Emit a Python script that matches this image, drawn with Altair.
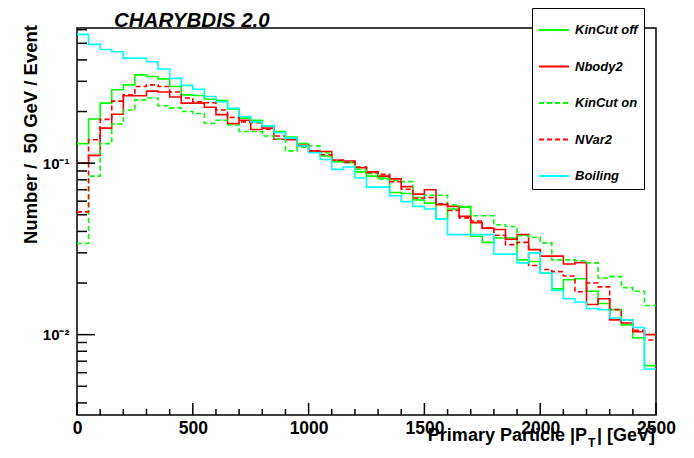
import altair as alt
import pandas as pd

# ---------------- data ----------------
bin_edges = list(range(0, 2550, 50))  # 50 bins of 50 GeV, 51 edges

kincut_off = [0.13, 0.181, 0.224, 0.268, 0.286, 0.327, 0.32, 0.31, 0.28, 0.25,
              0.248, 0.236, 0.232, 0.207, 0.183, 0.178, 0.165, 0.153, 0.142, 0.13,
              0.118, 0.11, 0.102, 0.101, 0.089, 0.084, 0.082, 0.0675, 0.0665, 0.061,
              0.0585, 0.0472, 0.054, 0.0554, 0.0375, 0.0345, 0.0366, 0.0366, 0.0273, 0.0267,
              0.0228, 0.0185, 0.0209, 0.0212, 0.0179, 0.0152, 0.014, 0.0114, 0.0096, 0.0066]

nbody2 = [0.100, 0.111, 0.16, 0.193, 0.247, 0.247, 0.263, 0.26, 0.243, 0.224,
          0.224, 0.212, 0.192, 0.17, 0.178, 0.157, 0.16, 0.138, 0.137, 0.127,
          0.118, 0.117, 0.104, 0.103, 0.094, 0.089, 0.084, 0.081, 0.073, 0.066,
          0.070, 0.0573, 0.056, 0.049, 0.045, 0.0418, 0.041, 0.036, 0.0383, 0.0313,
          0.0287, 0.0287, 0.0258, 0.0263, 0.015, 0.0162, 0.0122, 0.0117, 0.0104, 0.0100]

kincut_on = [0.034, 0.084, 0.13, 0.169, 0.204, 0.234, 0.24, 0.216, 0.21, 0.2,
             0.195, 0.171, 0.178, 0.167, 0.153, 0.153, 0.144, 0.138, 0.118, 0.124,
             0.126, 0.115, 0.103, 0.101, 0.092, 0.087, 0.081, 0.079, 0.078, 0.063,
             0.065, 0.065, 0.057, 0.056, 0.0494, 0.0494, 0.0437, 0.0427, 0.0377, 0.037,
             0.0343, 0.0273, 0.0273, 0.027, 0.0262, 0.0214, 0.0218, 0.0188, 0.0179, 0.0148]

nvar2 = [0.052, 0.137, 0.18, 0.23, 0.25, 0.28, 0.286, 0.28, 0.26, 0.24,
         0.228, 0.225, 0.204, 0.185, 0.174, 0.172, 0.158, 0.144, 0.138, 0.126,
         0.117, 0.112, 0.104, 0.101, 0.095, 0.088, 0.086, 0.078, 0.0705, 0.0626,
         0.063, 0.058, 0.053, 0.048, 0.046, 0.042, 0.038, 0.0335, 0.0345, 0.0253,
         0.024, 0.0233, 0.022, 0.0178, 0.020, 0.019, 0.014, 0.0122, 0.0106, 0.0093]

boiling = [0.564, 0.493, 0.46, 0.446, 0.41, 0.41, 0.39, 0.354, 0.312, 0.284,
           0.27, 0.245, 0.228, 0.209, 0.187, 0.174, 0.165, 0.151, 0.14, 0.126,
           0.115, 0.105, 0.092, 0.095, 0.082, 0.0725, 0.0725, 0.0645, 0.0597, 0.056,
           0.054, 0.0472, 0.0383, 0.0383, 0.0383, 0.0383, 0.0295, 0.0295, 0.0262, 0.030,
           0.0229, 0.0181, 0.0162, 0.0155, 0.0142, 0.014, 0.0125, 0.0122, 0.011, 0.0063]

series_names = ["KinCut off", "Nbody2", "KinCut on", "NVar2", "Boiling"]
series_values = [kincut_off, nbody2, kincut_on, nvar2, boiling]
series_colors = ["#00ff00", "#ff0000", "#00ff00", "#ff0000", "#00ffff"]
series_dashes = [[1, 0], [1, 0], [5, 3], [5, 3], [1, 0]]

x_major = [0, 500, 1000, 1500, 2000, 2500]
x_minor = [100, 200, 300, 400, 600, 700, 800, 900, 1100, 1200, 1300, 1400,
           1600, 1700, 1800, 1900, 2100, 2200, 2300, 2400]
y_major = [0.01, 0.1]
y_minor = [0.004, 0.005, 0.006, 0.007, 0.008, 0.009,
           0.02, 0.03, 0.04, 0.05, 0.06, 0.07, 0.08, 0.09,
           0.2, 0.3, 0.4, 0.5, 0.6]

plot_title = ["CHARYBDIS 2.0"]
y_title = ["Number /\u00a0\u00a050 GeV / Event"]
x_title_main = ["Primary Particle |P"]
x_title_sub = ["T"]
x_title_end = ["| [GeV]"]

# ---------------- tables ----------------
rows = []
for name, vals in zip(series_names, series_values):
    ys = list(vals) + [vals[-1]]  # close the last bin at its upper edge
    for e, v in zip(bin_edges, ys):
        rows.append({"pt": e, "val": v, "series": name})
hist_df = pd.DataFrame(rows)

W, H = 579, 387
FONT = "Liberation Sans"

x_scale = alt.Scale(domain=[0, 2500], nice=False, zero=False)
y_scale = alt.Scale(type="log", domain=[0.0034, 0.614], nice=False)

x_axis = alt.Axis(title="", values=x_major, format="d", labelFont=FONT,
                  labelFontSize=17.5, labelFontWeight="bold", labelColor="black",
                  labelPadding=4, labelBaseline="top", ticks=False, tickSize=0,
                  domain=False, grid=False, labelFlush=False, labelOverlap=False)
y_axis = alt.Axis(title="", values=y_major,
                  labelExpr="datum.value < 0.05 ? '10\u207b\u00b2' : '10\u207b\u00b9'",
                  labelFont=FONT, labelFontSize=15, labelFontWeight="bold",
                  labelColor="black", labelPadding=8, ticks=False, tickSize=0,
                  domain=False, grid=False, labelFlush=False, labelOverlap=False)

legend = alt.Legend(title=None, orient="none", legendX=455, legendY=-20,
                    fillColor="white", strokeColor="black", padding=6,
                    rowPadding=13.5, symbolType="stroke", symbolSize=900,
                    symbolStrokeWidth=2, labelFont=FONT, labelFontSize=13,
                    labelFontStyle="italic", labelFontWeight="bold",
                    labelColor="black", labelOffset=5,
                    labelExpr="datum.label + '" + "\u00a0" * 12 + "'")

lines = alt.Chart(hist_df).mark_line(interpolate="step-after", strokeWidth=1.6).encode(
    x=alt.X("pt:Q", scale=x_scale, axis=x_axis),
    y=alt.Y("val:Q", scale=y_scale, axis=y_axis),
    color=alt.Color("series:N", scale=alt.Scale(domain=series_names, range=series_colors),
                    legend=legend),
    strokeDash=alt.StrokeDash("series:N",
                              scale=alt.Scale(domain=series_names, range=series_dashes),
                              legend=legend),
)

# inward ticks (ROOT style)
xt_major = alt.Chart(pd.DataFrame({"tx": x_major})).mark_rule(color="black", strokeWidth=1.5).encode(
    x=alt.X("tx:Q", scale=x_scale, axis=x_axis), y=alt.value(H), y2=alt.value(H - 12))
xt_minor = alt.Chart(pd.DataFrame({"tx": x_minor})).mark_rule(color="black", strokeWidth=1.5).encode(
    x=alt.X("tx:Q", scale=x_scale, axis=x_axis), y=alt.value(H), y2=alt.value(H - 6))
yt_major = alt.Chart(pd.DataFrame({"ty": y_major})).mark_rule(color="black", strokeWidth=1.5).encode(
    y=alt.Y("ty:Q", scale=y_scale, axis=y_axis), x=alt.value(0), x2=alt.value(18))
yt_minor = alt.Chart(pd.DataFrame({"ty": y_minor})).mark_rule(color="black", strokeWidth=1.5).encode(
    y=alt.Y("ty:Q", scale=y_scale, axis=y_axis), x=alt.value(0), x2=alt.value(10))

title_layer = alt.Chart(pd.DataFrame({"t": plot_title})).mark_text(
    font=FONT, fontSize=20.5, fontStyle="italic", fontWeight="bold", align="left",
    baseline="alphabetic", color="black").encode(text="t:N", x=alt.value(37), y=alt.value(-1.5))

ytitle_layer = alt.Chart(pd.DataFrame({"t": y_title})).mark_text(
    font=FONT, fontSize=18.5, fontWeight="bold", angle=270, align="right",
    baseline="alphabetic", color="black").encode(text="t:N", x=alt.value(-40), y=alt.value(-3))

xt1 = alt.Chart(pd.DataFrame({"t": x_title_main})).mark_text(
    font=FONT, fontSize=18, fontWeight="bold", align="right", baseline="alphabetic",
    color="black").encode(text="t:N", x=alt.value(510), y=alt.value(413))
xt2 = alt.Chart(pd.DataFrame({"t": x_title_sub})).mark_text(
    font=FONT, fontSize=12, fontWeight="bold", align="left", baseline="alphabetic",
    color="black").encode(text="t:N", x=alt.value(511), y=alt.value(419))
xt3 = alt.Chart(pd.DataFrame({"t": x_title_end})).mark_text(
    font=FONT, fontSize=18, fontWeight="bold", align="left", baseline="alphabetic",
    color="black").encode(text="t:N", x=alt.value(520), y=alt.value(413))

chart = alt.layer(
    lines, xt_major, xt_minor, yt_major, yt_minor, title_layer, ytitle_layer, xt1, xt2, xt3
).properties(
    width=W, height=H,
    padding={"left": 69, "top": 20, "right": 30, "bottom": 35},
    autosize=alt.AutoSizeParams(type="none"),
    background="white",
).configure_view(stroke="black", strokeWidth=1.5)

chart.save("out.html", embed_options={"renderer": "svg", "actions": False})
